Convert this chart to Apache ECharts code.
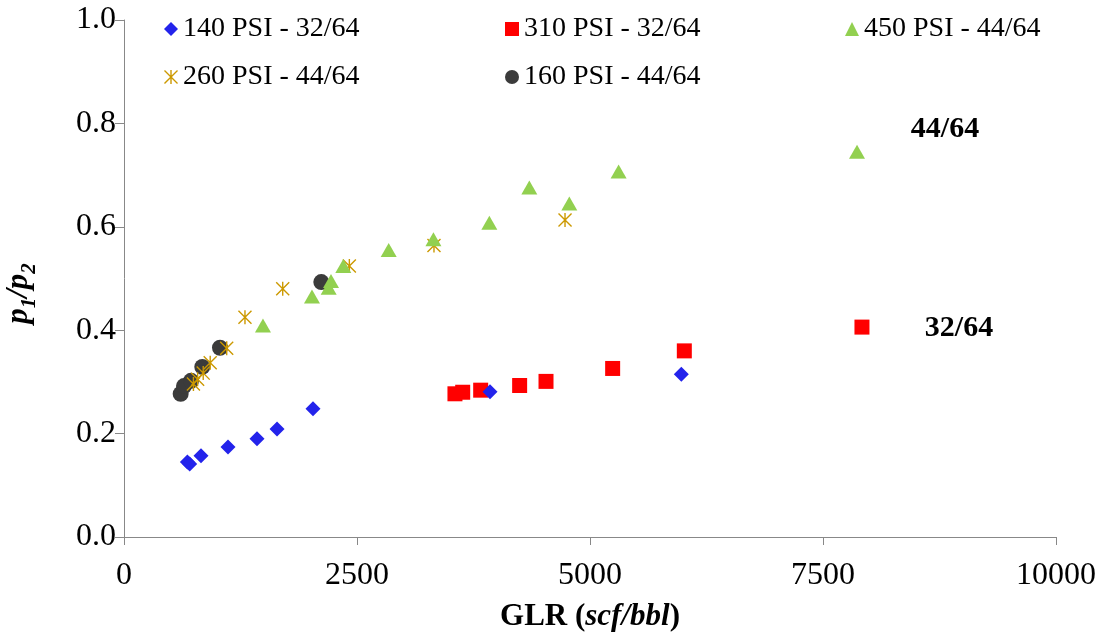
<!DOCTYPE html>
<html>
<head>
<meta charset="utf-8">
<title>p1/p2 vs GLR</title>
<script src="https://cdn.jsdelivr.net/npm/echarts@6/dist/echarts.min.js"></script>
<style>
  html, body { margin: 0; padding: 0; background: #fff; }
  #chart { width: 1099px; height: 637px; }
</style>
</head>
<body>
<div id="chart"></div>
<script>
// values: [GLR, p1/p2]
const psi140 = [[680, 0.145], [705, 0.141], [826, 0.157], [1116, 0.174], [1427, 0.190], [1642, 0.209], [2028, 0.248], [3927, 0.281], [5980, 0.315]];
const psi310 = [[3551, 0.277], [3634, 0.280], [3827, 0.284], [4245, 0.293], [4528, 0.301], [5243, 0.326], [6012, 0.360], [7918, 0.406]];
const psi450 = [[1491, 0.409], [2017, 0.465], [2196, 0.482], [2221, 0.495], [2353, 0.524], [2840, 0.555], [3320, 0.576], [3920, 0.608], [4349, 0.676], [4778, 0.645], [5307, 0.707], [7865, 0.745]];
const psi260 = [[745, 0.296], [790, 0.305], [850, 0.317], [925, 0.337], [1102, 0.365], [1298, 0.425], [1703, 0.480], [2418, 0.524], [3326, 0.564], [4732, 0.613]];
const psi160 = [[608, 0.277], [644, 0.292], [719, 0.302], [840, 0.329], [1030, 0.366], [2117, 0.493]];

const seriesNames = ['140 PSI - 32/64', '310 PSI - 32/64', '450 PSI - 44/64', '260 PSI - 44/64', '160 PSI - 44/64'];
const seriesColors = ['#2323EB', '#FF0000', '#92D050', '#CC9900', '#3B3B3B'];

const font = "'Liberation Serif', 'Times New Roman', serif";
const star = 'path://M9,0 L11,0 L11,20 L9,20 Z M1.4,0 L20,18.6 L18.6,20 L0,1.4 Z M18.6,0 L20,1.4 L1.4,20 L0,18.6 Z';

const chart = echarts.init(document.getElementById('chart'));

function legendAt(name, left, top) {
  return {
    data: [name],
    left: left,
    top: top,
    padding: 0,
    itemWidth: 14,
    itemHeight: 14,
    selectedMode: false,
    textStyle: { fontFamily: font, fontSize: 28, color: '#000' }
  };
}

function scatter(i, data, symbol, size) {
  return {
    name: seriesNames[i],
    type: 'scatter',
    data: data,
    symbol: symbol,
    symbolSize: size,
    itemStyle: { color: seriesColors[i], opacity: 1 },
    z: 10 - i
  };
}

chart.setOption({
  animation: false,
  grid: { left: 124, right: 43, top: 20, bottom: 100, containLabel: false, outerBoundsMode: 'none' },
  legend: [
    legendAt(seriesNames[0], 164, 15),
    legendAt(seriesNames[1], 505, 15),
    legendAt(seriesNames[2], 845, 15),
    legendAt(seriesNames[3], 164, 63),
    legendAt(seriesNames[4], 505, 63)
  ],
  xAxis: {
    type: 'value',
    min: 0, max: 10000, interval: 2500,
    name: '{b|GLR (}{bi|scf/bbl}{b|)}',
    nameLocation: 'middle',
    nameGap: 64,
    nameTextStyle: {
      rich: {
        b: { fontFamily: font, fontSize: 31, fontWeight: 'bold', color: '#000' },
        bi: { fontFamily: font, fontSize: 31, fontWeight: 'bold', fontStyle: 'italic', color: '#000' }
      }
    },
    axisLine: { lineStyle: { color: '#888', width: 1 } },
    axisTick: { length: 8, lineStyle: { color: '#888' } },
    axisLabel: { margin: 23, fontFamily: font, fontSize: 32, color: '#000', formatter: v => String(v) },
    splitLine: { show: false }
  },
  yAxis: {
    type: 'value',
    min: 0, max: 1, interval: 0.2,
    name: '{i|p}{s|1}{i|/p}{s|2}{e|}',
    nameLocation: 'middle',
    nameRotate: 90,
    nameGap: 84,
    nameTextStyle: {
      rich: {
        i: { fontFamily: font, fontSize: 31, fontWeight: 'bold', fontStyle: 'italic', color: '#000', lineHeight: 42, verticalAlign: 'middle' },
        s: { fontFamily: font, fontSize: 21, fontWeight: 'bold', fontStyle: 'italic', color: '#000', lineHeight: 42, verticalAlign: 'bottom' },
        e: { fontSize: 10, lineHeight: 42, padding: [0, 30, 0, 0] }
      }
    },
    axisLine: { show: true, lineStyle: { color: '#888', width: 1 } },
    axisTick: { show: true, length: 9, lineStyle: { color: '#888' } },
    axisLabel: { margin: 8, fontFamily: font, fontSize: 32, color: '#000', formatter: v => v.toFixed(1) },
    splitLine: { show: false }
  },
  graphic: [
    { type: 'text', x: 945, y: 129, style: { text: '44/64', font: "bold 30px " + font, fill: '#000', align: 'center', verticalAlign: 'middle' } },
    { type: 'text', x: 959, y: 328, style: { text: '32/64', font: "bold 30px " + font, fill: '#000', align: 'center', verticalAlign: 'middle' } }
  ],
  series: [
    scatter(0, psi140, 'diamond', 15),
    scatter(1, psi310, 'rect', 15),
    scatter(2, psi450, 'triangle', [16, 14]),
    scatter(3, psi260, star, 14),
    scatter(4, psi160, 'circle', 16)
  ]
});
</script>
</body>
</html>
